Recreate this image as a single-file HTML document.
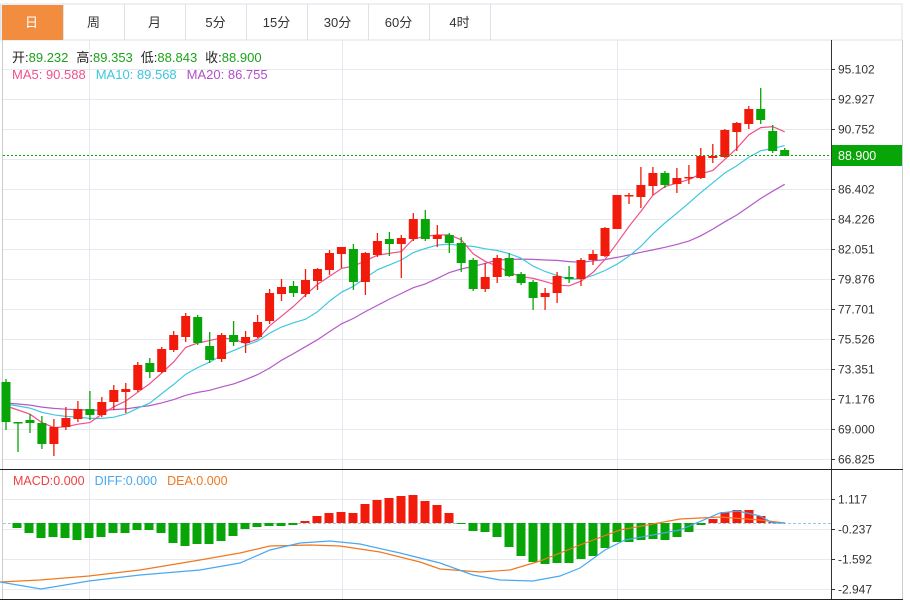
<!DOCTYPE html>
<html><head><meta charset="utf-8"><style>
html,body{margin:0;padding:0;background:#fff;}
body{width:910px;height:603px;overflow:hidden;position:relative;font-family:"Liberation Sans","Noto Sans CJK SC",sans-serif;}
</style></head><body>
<svg id="s" width="910" height="603" xmlns="http://www.w3.org/2000/svg" style="position:absolute;left:0;top:0"></svg>
<script>
const S=document.getElementById('s');let h='';
const R='#f11a0b',G='#08a508';
// tabs
h+='<rect x="1" y="4" width="901" height="36" fill="#fff" stroke="#dde2e8"/>';
h+='<rect x="2" y="5" width="61" height="35" fill="#f28d40"/>';
const tabs=['日','周','月','5分','15分','30分','60分','4时'];
const tb=[0,63,124,185,246,307,368,429,490];
for(let i=0;i<9;i++)h+=`<line x1="${tb[i]+.5}" y1="4" x2="${tb[i]+.5}" y2="40" stroke="#dde2e8"/>`;
tabs.forEach((t,i)=>{h+=`<text x="${(tb[i]+tb[i+1])/2}" y="27" text-anchor="middle" font-size="13" fill="${i?'#333':'#fff'}">${t}</text>`});
// grid
const ly=[69,99,129,159,189,219,249,279,309,339,369,399,429,459];
ly.forEach(y=>h+=`<line x1="3" y1="${y+.5}" x2="831" y2="${y+.5}" stroke="#e6eaf0"/>`);
[499,529,559,589].forEach(y=>h+=`<line x1="3" y1="${y+.5}" x2="831" y2="${y+.5}" stroke="#e6eaf0"/>`);
[89,342,617].forEach(x=>h+=`<line x1="${x+.5}" y1="40" x2="${x+.5}" y2="599" stroke="#e6eaf0"/>`);
h+='<line x1="2.5" y1="40" x2="2.5" y2="600" stroke="#ccc"/>';
h+='<line x1="831.5" y1="40" x2="831.5" y2="600" stroke="#333"/>';
h+='<line x1="902.5" y1="40" x2="902.5" y2="600" stroke="#ccc"/>';
h+='<line x1="0" y1="469.5" x2="903" y2="469.5" stroke="#222"/>';
h+='<line x1="0" y1="599.5" x2="903" y2="599.5" stroke="#222"/>';
const labs=['95.102','92.927','90.752','','86.402','84.226','82.051','79.876','77.701','75.526','73.351','71.176','69.000','66.825'];
labs.forEach((l,i)=>{if(l){h+=`<line x1="831" y1="${ly[i]+.5}" x2="835" y2="${ly[i]+.5}" stroke="#333"/><text x="838" y="${ly[i]+4.5}" font-size="12" fill="#333">${l}</text>`}});
[['1.117',499],['-0.237',529],['-1.592',559],['-2.947',589]].forEach(a=>h+=`<line x1="831" y1="${a[1]+.5}" x2="835" y2="${a[1]+.5}" stroke="#333"/><text x="838" y="${a[1]+4.5}" font-size="12" fill="#333">${a[0]}</text>`);
// candles [o,c,h,l]
const D=[[382,422,379,430],[422,422,422,452],[420,423,414,433],[423,444,416,449],[444,427,419,456],[427,418,407,430],[419,409,401,422],[409,415,391,420],[415,402,397,417],[402,390,385,410],[392,389,383,413],[390,365,362,392],[363,372,358,378],[372,349,347,373],[350,335,331,352],[337,316,313,342],[317,343,315,345],[346,360,332,363],[359,335,333,362],[335,342,321,346],[343,337,331,353],[337,322,315,338],[321,293,289,324],[294,287,279,301],[286,293,281,297],[294,280,269,297],[281,269,268,290],[270,253,250,275],[254,247,247,268],[249,282,244,290],[282,253,252,295],[255,241,233,257],[239,244,232,256],[244,238,235,278],[239,219,213,241],[219,239,210,241],[239,235,225,247],[235,243,233,253],[243,263,237,272],[260,289,258,291],[289,277,263,292],[277,258,255,283],[258,276,253,277],[274,283,272,285],[282,298,280,310],[297,293,288,310],[293,276,272,303],[277,279,266,283],[279,260,258,286],[260,254,250,265],[256,228,227,257],[229,195,195,229],[196,195,193,204],[197,185,167,208],[186,173,167,195],[173,185,171,188],[184,178,168,193],[178,177,165,184],[178,156,148,179],[158,156,144,163],[157,130,129,158],[132,123,122,151],[124,109,106,129],[109,120,88,124],[131,151,125,153],[150,156,148,156]];
const X=i=>6+i*11.98;
// MAs
const cl=D.map(d=>d[1]);const pad=Array(20).fill(402);const all=pad.concat(cl);
function ma(n){return cl.map((_,i)=>{let s=0;for(let k=0;k<n;k++)s+=all[i+20-k];return s/n;});}
[[20,'#b45ac8'],[10,'#40c8e0'],[5,'#f0508a']].forEach(([n,c])=>{const m=ma(n);h+=`<polyline fill="none" stroke="${c}" stroke-width="1.2" points="${m.map((v,i)=>X(i).toFixed(1)+','+v.toFixed(1)).join(' ')}"/>`;});
D.forEach((d,i)=>{const x=X(i);const up=d[1]<d[0]||(d[1]==d[0]&&i!=1&&i!=47);const c=[0,1,2,3,7,12,16,17,19,24,29,32,35,37,38,39,42,43,44,47,55,63,64,65].includes(i)?G:R;
h+=`<line x1="${x.toFixed(1)}" y1="${d[2]}" x2="${x.toFixed(1)}" y2="${d[3]}" stroke="${c}" stroke-width="1.3"/>`;
const t=Math.min(d[0],d[1]),b=Math.max(d[0],d[1]);h+=`<rect x="${(x-4.5).toFixed(1)}" y="${t}" width="9" height="${Math.max(b-t,1.5)}" fill="${c}"/>`;});
// price line
h+='<line x1="3" y1="155.5" x2="831" y2="155.5" stroke="#08a508" stroke-dasharray="2,2"/>';
h+='<rect x="832" y="145" width="70" height="21" fill="#08a508"/><text x="838" y="160" font-size="12.5" fill="#fff">88.900</text>';
// MACD bars
h+='<line x1="3" y1="523.5" x2="831" y2="523.5" stroke="#9cc8e0" stroke-dasharray="3,2"/>';
const M={17:528,29:533,41:538,53:537,65:538,77:540,89:538,101:537,113:533,125:533,137:530,149:530,161:533,173:543,185:546,197:544,209:544,221:541,233:536,245:529,257:527,269:526,281:526,293:525,305:521,317:516,329:513,341:512,353:513,365:504,377:500,389:498,401:496,413:495,425:501,437:505,449:513,461:524,473:531,485:532,497:537,509:547,521:556,533:562,545:564,557:563,569:563,581:559,593:556,605:548,617:542,629:542,641:540,653:539,665:540,677:537,689:532,701:525,713:519,725:512,737:510,749:510,761:516,773:522};
for(const k in M){const x=+k,y=M[k];const c=y>523?G:R;const t=Math.min(y,523),b=Math.max(y,523);h+=`<rect x="${x-4.5}" y="${t}" width="9" height="${Math.max(b-t,1)}" fill="${c}"/>`;}
const dea=[[0,582],[40,580],[89,576],[140,570],[200,560],[240,553],[270,546],[310,545],[340,546],[380,552],[420,562],[440,569],[480,572],[510,570],[540,561],[580,545],[620,530],[680,519],[720,517],[760,520],[785,523]];
const dif=[[0,582],[41,589],[89,581],[140,575],[200,570],[240,563],[270,550],[300,543],[330,541],[360,544],[400,553],[440,563],[473,575],[500,580],[533,581],[560,576],[580,568],[605,550],[625,540],[680,530],[720,513],[738,511],[760,516],[773,523],[785,523]];
h+=`<polyline fill="none" stroke="#f07820" stroke-width="1.2" points="${dea.map(p=>p.join(',')).join(' ')}"/>`;
h+=`<polyline fill="none" stroke="#4aa8f0" stroke-width="1.2" points="${dif.map(p=>p.join(',')).join(' ')}"/>`;
// legends
h+='<text x="12" y="62" font-size="13"><tspan fill="#222">开:</tspan><tspan fill="#1aa31a">89.232</tspan><tspan fill="#222" dx="8">高:</tspan><tspan fill="#1aa31a">89.353</tspan><tspan fill="#222" dx="8">低:</tspan><tspan fill="#1aa31a">88.843</tspan><tspan fill="#222" dx="8">收:</tspan><tspan fill="#1aa31a">88.900</tspan></text>';
h+='<text x="12" y="79" font-size="13"><tspan fill="#f0508a">MA5: 90.588</tspan><tspan fill="#3ec6dc" dx="10">MA10: 89.568</tspan><tspan fill="#b050c8" dx="10">MA20: 86.755</tspan></text>';
h+='<text x="13" y="485" font-size="12.5"><tspan fill="#f04040">MACD:0.000</tspan><tspan fill="#4aa8f0" dx="10">DIFF:0.000</tspan><tspan fill="#f07820" dx="10">DEA:0.000</tspan></text>';
S.innerHTML=h;
</script>
</body></html>
